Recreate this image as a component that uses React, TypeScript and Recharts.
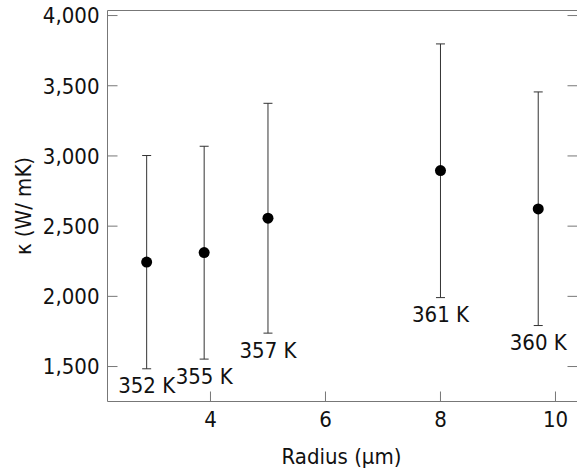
import React from 'react';
import { ScatterChart, Scatter, XAxis, YAxis, ErrorBar } from 'recharts';

const radius = [2.89, 3.89, 5.0, 8.0, 9.7];
const kappa = [2244, 2312, 2557, 2896, 2623];
const kappaLow = [1484, 1553, 1738, 1991, 1792];
const kappaHigh = [3003, 3069, 3375, 3798, 3456];
const tempLabels = ['352 K', '355 K', '357 K', '361 K', '360 K'];
const xTicks = [4, 6, 8, 10];
const yTicks = [1500, 2000, 2500, 3000, 3500, 4000];

const FONT = "'DejaVu Sans Condensed', 'DejaVu Sans', sans-serif";
const AXIS_COLOR = '#777';
const X_DOMAIN: [number, number] = [2.209, 10.383];
const Y_DOMAIN: [number, number] = [1251, 4036];

const points = radius.map((r, i) => ({
  x: r,
  y: kappa[i],
  err: [kappa[i] - kappaLow[i], kappaHigh[i] - kappa[i]],
}));
const labelPoints = radius.map((r, i) => ({ x: r, y: kappaLow[i], label: tempLabels[i] }));

const tickStyle = { fill: '#111', fontSize: 22, fontFamily: FONT, fontStretch: 'condensed' } as any;

const Dot = (p: any) => <circle cx={p.cx} cy={p.cy} r={5.5} fill="#000" />;
const TempLabel = (p: any) => (
  <text
    x={p.cx}
    y={p.cy + 24.5}
    textAnchor="middle"
    fill="#111"
    fontSize={22}
    fontFamily={FONT}
    style={{ fontStretch: 'condensed' }}
  >
    {p.payload.label}
  </text>
);

const YLabel = (props: any) => {
  const vb = props.viewBox || {};
  const cx = vb.x + 31;
  const cy = vb.y + vb.height / 2;
  return (
    <text
      x={cx}
      y={cy}
      transform={`rotate(-90, ${cx}, ${cy})`}
      textAnchor="middle"
      fill="#111"
      fontSize={22}
      fontFamily={FONT}
      style={{ fontStretch: 'condensed' }}
    >
      κ (W/ mK)
    </text>
  );
};

const XLabel = (props: any) => {
  const vb = props.viewBox || {};
  return (
    <text
      x={vb.x + vb.width / 2 - 1}
      y={vb.y + 62}
      textAnchor="middle"
      fill="#111"
      fontSize={22}
      fontFamily={FONT}
      style={{ fontStretch: 'condensed' }}
    >
      Radius (µm)
    </text>
  );
};

export default function App() {
  return (
    <div style={{ position: 'absolute', left: 0, top: 0, width: 577, height: 471, overflow: 'hidden', background: '#fff' }}>
      <ScatterChart width={590} height={471} margin={{ top: 9.5, right: 0, bottom: 0, left: 0 }}>
        <XAxis
          dataKey="x"
          type="number"
          domain={X_DOMAIN}
          allowDataOverflow
          ticks={xTicks}
          interval={0}
          height={69.5}
          tickSize={-10}
          tickMargin={20}
          stroke={AXIS_COLOR}
          tick={tickStyle}
          label={<XLabel />}
        />
        <XAxis
          xAxisId="top"
          orientation="top"
          type="number"
          domain={X_DOMAIN}
          allowDataOverflow
          ticks={xTicks}
          interval={0}
          height={1}
          tickSize={-10}
          stroke={AXIS_COLOR}
          tickFormatter={() => ''}
        />
        <YAxis
          dataKey="y"
          type="number"
          domain={Y_DOMAIN}
          allowDataOverflow
          ticks={yTicks}
          interval={0}
          width={107.5}
          tickSize={-10}
          tickMargin={18}
          stroke={AXIS_COLOR}
          tick={tickStyle}
          tickFormatter={(v: number) => v.toLocaleString('en-US')}
          label={<YLabel />}
        />
        <YAxis
          yAxisId="right"
          orientation="right"
          type="number"
          domain={Y_DOMAIN}
          allowDataOverflow
          ticks={yTicks}
          interval={0}
          width={12.5}
          tickSize={-10}
          stroke={AXIS_COLOR}
          tickFormatter={() => ''}
        />
        <Scatter data={points} isAnimationActive={false} shape={<Dot />}>
          <ErrorBar dataKey="err" direction="y" width={4.5} stroke="#333" strokeWidth={1} isAnimationActive={false} />
        </Scatter>
        <Scatter data={labelPoints} isAnimationActive={false} shape={<TempLabel />} />
      </ScatterChart>
    </div>
  );
}
